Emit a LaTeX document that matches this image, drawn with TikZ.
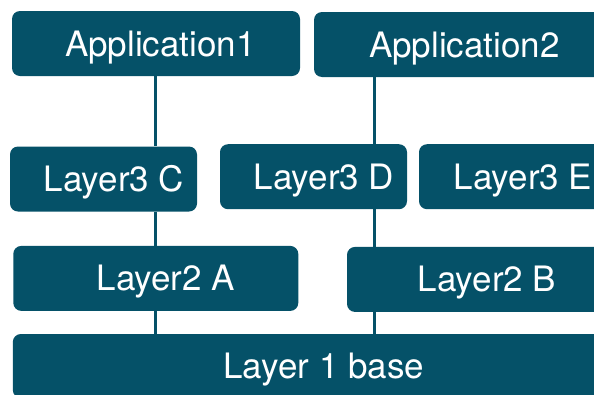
\documentclass[tikz,border=0pt]{standalone}
\usepackage{fontspec}
\setmainfont{TeX Gyre Heros}
\definecolor{laag}{RGB}{5,81,104}
\begin{document}
\begin{tikzpicture}[
       x=1pt,y=-1pt,
       blok/.style={
         rectangle,
         rounded corners=8pt,
         fill=laag,
         inner sep=0pt,
         minimum height=65pt
       },
       tekst/.style={
         text=white,
         font=\fontsize{35}{40}\selectfont,
         inner sep=0pt,
         text height=25pt,
         text depth=0pt
       },
       lijn/.style={
         draw=laag,
         line width=3pt
       }
     ]
       \useasboundingbox (0,0) rectangle (594,394);
       \clip (0,0) rectangle (594,394);

       \coordinate (as1) at (155.5,0);
       \coordinate (as2) at (374,0);

       \node (app1) at (156,43.5) [blok,minimum width=288pt,label={[tekst,xshift=4.5pt]center:Application1}]{};
       \node (app2) at (464.5,44.5) [blok,minimum width=301pt,label={[tekst]center:Application2}]{};

       \node (l3c) at (103.5,179) [blok,minimum width=187pt,label={[tekst,xshift=10.5pt]center:Layer3 C}]{};
       \node (l3d) at (313.5,176.7) [blok,minimum width=187pt,label={[tekst,xshift=10.5pt]center:Layer3 D}]{};
       \node (l3e) at (512.5,176.7) [blok,minimum width=187pt,label={[tekst,xshift=10.5pt]center:Layer3 E}]{};

       \node (l2a) at (155.8,278.4) [blok,minimum width=285pt,label={[tekst,xshift=10pt]center:Layer2 A}]{};
       \node (l2b) at (487,279.4) [blok,minimum width=280pt,label={[tekst]center:Layer2 B}]{};

       \node (base) at (323.8,366) [blok,minimum width=622pt,minimum height=64pt,label={[tekst]center:Layer 1 base}]{};

       \draw[lijn] (app1.south -| as1) -- (l3c.north -| as1);
       \draw[lijn] (l3c.south -| as1) -- (l2a.north -| as1);
       \draw[lijn] (l2a.south -| as1) -- (base.north -| as1);

       \draw[lijn] (app2.south -| as2) -- (l3d.north -| as2);
       \draw[lijn] (l3d.south -| as2) -- (l2b.north -| as2);
       \draw[lijn] (l2b.south -| as2) -- (base.north -| as2);

\end{tikzpicture}
\end{document}
